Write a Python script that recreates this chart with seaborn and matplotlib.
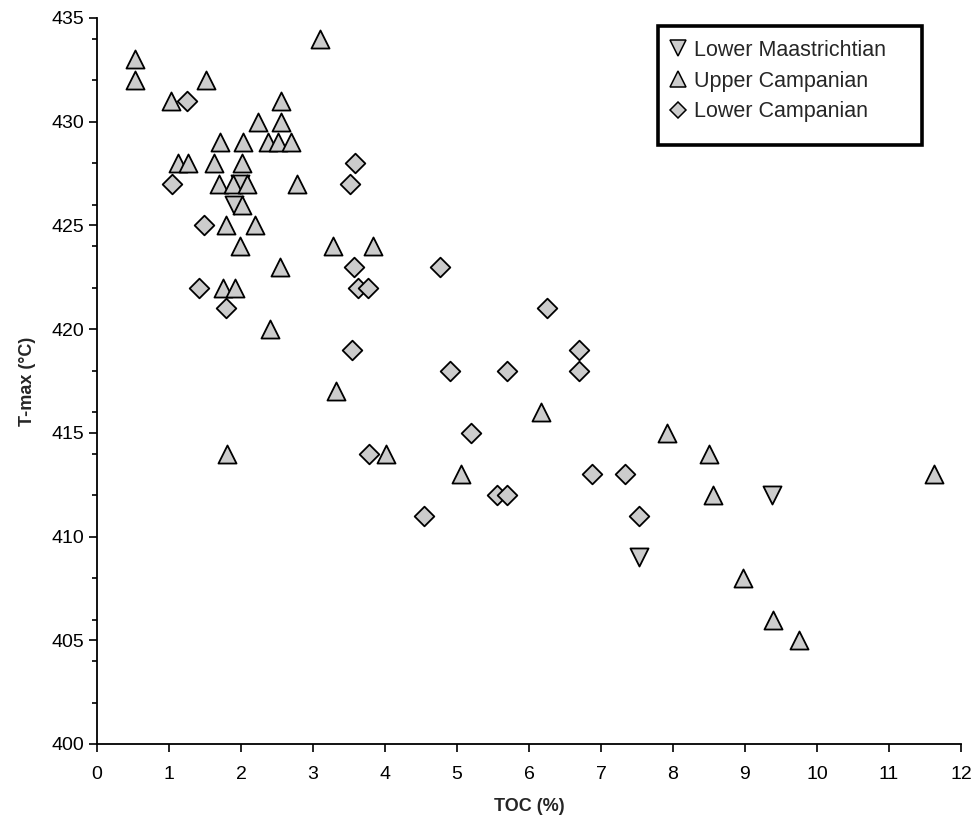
import matplotlib
matplotlib.use("Agg")
import matplotlib.pyplot as plt
from matplotlib.patches import Rectangle
from matplotlib.ticker import MultipleLocator
import seaborn as sns

# Rock-Eval results: TOC (%) against T-max (°C), grouped by stratigraphic unit
toc_lower_maastrichtian = [1.99, 1.90, 7.53, 9.38]
tmax_lower_maastrichtian = [427, 426, 409, 412]

toc_upper_campanian = [0.53, 0.53, 1.03, 1.52, 3.10, 2.56,
                       2.24, 2.55,
                       1.71, 2.03, 2.38, 2.52, 2.70,
                       1.12, 1.27, 1.63, 2.02,
                       1.69, 1.89, 2.09, 2.78,
                       2.01,
                       1.79, 2.20,
                       1.99, 3.28, 3.83,
                       2.54,
                       1.75, 1.92,
                       2.40,
                       3.32,
                       6.17,
                       7.91,
                       1.80, 4.02, 8.50,
                       5.06, 11.62,
                       8.56,
                       8.97,
                       9.39,
                       9.75]
tmax_upper_campanian = [433, 432, 431, 432, 434, 431,
                        430, 430,
                        429, 429, 429, 429, 429,
                        428, 428, 428, 428,
                        427, 427, 427, 427,
                        426,
                        425, 425,
                        424, 424, 424,
                        423,
                        422, 422,
                        420,
                        417,
                        416,
                        415,
                        414, 414, 414,
                        413, 413,
                        412,
                        408,
                        406,
                        405]

toc_lower_campanian = [1.25, 1.04, 1.49, 1.41, 1.79,
                       3.59, 3.52, 3.57, 3.63, 3.76, 3.54, 4.77,
                       6.25, 6.70, 6.70, 4.90, 5.69,
                       5.19, 3.78,
                       6.88, 7.33,
                       5.56, 5.69,
                       4.54, 7.53]
tmax_lower_campanian = [431, 427, 425, 422, 421,
                        428, 427, 423, 422, 422, 419, 423,
                        421, 419, 418, 418, 418,
                        415, 414,
                        413, 413,
                        412, 412,
                        411, 411]

x_ticks = list(range(0, 13))
y_ticks = [400, 405, 410, 415, 420, 425, 430, 435]

sns.set_theme(style="ticks")
plt.rcParams["font.family"] = ["Liberation Sans", "DejaVu Sans"]

fig = plt.figure(figsize=(9.78, 8.18), dpi=100)
ax = fig.add_axes([97 / 978, 1 - 744 / 818, (961 - 97) / 978, (744 - 18) / 818])

fill = "#cccccc"
common = dict(color=fill, edgecolor="black", linewidth=1.3, ax=ax, legend=False)

sns.scatterplot(x=toc_lower_maastrichtian, y=tmax_lower_maastrichtian,
                marker="v", s=13 ** 2, zorder=3, **common)
sns.scatterplot(x=toc_upper_campanian, y=tmax_upper_campanian,
                marker="^", s=13 ** 2, zorder=4, **common)
sns.scatterplot(x=toc_lower_campanian, y=tmax_lower_campanian,
                marker="D", s=10 ** 2, zorder=5, **common)

ax.set_xlim(0, 12)
ax.set_ylim(400, 435)
ax.set_xticks(x_ticks)
ax.set_xticklabels([str(t) for t in x_ticks])
ax.set_yticks(y_ticks)
ax.set_yticklabels([str(t) for t in y_ticks])
ax.yaxis.set_minor_locator(MultipleLocator(2))

for side in ("top", "right"):
    ax.spines[side].set_visible(False)
for side in ("left", "bottom"):
    ax.spines[side].set_color("black")
    ax.spines[side].set_linewidth(1.3)

ax.tick_params(axis="both", which="major", length=6, width=1.2,
               color="black", labelsize=14, labelcolor="black")
ax.tick_params(axis="x", which="major", pad=9.5)
ax.tick_params(axis="y", which="major", pad=3)
ax.tick_params(axis="y", which="minor", length=3.5, width=1.2, color="black")

ax.set_xlabel("TOC (%)", fontsize=13, fontweight="bold", labelpad=11)
ax.set_ylabel("T-max (°C)", fontsize=13, fontweight="bold", labelpad=11)

# Legend with a heavy square frame
handles = [
    plt.Line2D([], [], marker="v", linestyle="none", markersize=11,
               markerfacecolor=fill, markeredgecolor="black", markeredgewidth=1.1),
    plt.Line2D([], [], marker="^", linestyle="none", markersize=11,
               markerfacecolor=fill, markeredgecolor="black", markeredgewidth=1.1),
    plt.Line2D([], [], marker="D", linestyle="none", markersize=8,
               markerfacecolor=fill, markeredgecolor="black", markeredgewidth=1.1),
]
labels = ["Lower Maastrichtian", "Upper Campanian", "Lower Campanian"]
fig.legend(handles, labels, loc="upper left",
           bbox_to_anchor=(668 / 978, 1 - 40 / 818),
           frameon=False, fontsize=15.5, handlelength=0.9, handletextpad=0.3,
           labelspacing=0.45, borderaxespad=0, borderpad=0)
fig.patches.append(Rectangle((658 / 978, 1 - 145 / 818), (922 - 658) / 978,
                             (145 - 26) / 818, transform=fig.transFigure,
                             fill=False, edgecolor="black", linewidth=2.6,
                             zorder=10))

fig.savefig("out.png", dpi=100, facecolor="white")
